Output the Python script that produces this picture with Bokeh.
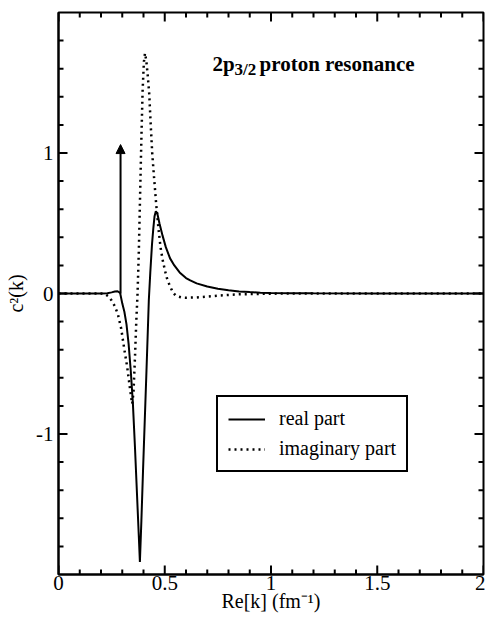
import math
from bokeh.plotting import figure
from bokeh.models import (Range1d, FixedTicker, Legend, LegendItem,
                          Label, Arrow, NormalHead)
from bokeh.embed import file_html
from bokeh.resources import INLINE

# ---- data ----
k_real = [0.0, 0.1, 0.2, 0.23, 0.25, 0.265, 0.278, 0.29, 0.30, 0.31, 0.32, 0.33,
          0.34, 0.35, 0.36, 0.37, 0.378, 0.383, 0.39, 0.398, 0.406, 0.414, 0.42,
          0.425, 0.432, 0.44, 0.446, 0.452, 0.458, 0.465, 0.475, 0.49, 0.505,
          0.525, 0.545, 0.57, 0.60, 0.62, 0.65, 0.70, 0.75, 0.80, 0.85, 0.90,
          0.95, 1.0, 1.1, 1.2, 1.5, 2.0]
c_real = [0.0, 0.0, 0.0, 0.002, 0.008, 0.014, 0.016, 0.004, -0.07, -0.13, -0.22,
          -0.36, -0.55, -0.78, -1.1, -1.45, -1.73, -1.91, -1.62, -1.25, -0.9,
          -0.55, -0.28, -0.05, 0.15, 0.35, 0.46, 0.55, 0.585, 0.57, 0.5, 0.41,
          0.33, 0.25, 0.2, 0.15, 0.11, 0.093, 0.072, 0.05, 0.034, 0.023, 0.015,
          0.01, 0.006, 0.004, 0.002, 0.001, 0.0, 0.0]

k_imag = [0.0, 0.1, 0.2, 0.22, 0.235, 0.25, 0.265, 0.28, 0.295, 0.31, 0.323,
          0.335, 0.343, 0.347, 0.353, 0.36, 0.366, 0.372, 0.378, 0.384, 0.39,
          0.396, 0.402, 0.407, 0.413, 0.42, 0.427, 0.433, 0.441, 0.45, 0.46,
          0.47, 0.48, 0.49, 0.50, 0.51, 0.52, 0.53, 0.54, 0.55, 0.56, 0.58, 0.60,
          0.65, 0.70, 0.75, 0.80, 0.85, 0.90, 1.0, 1.2, 1.5, 2.0]
c_imag = [0.0, 0.0, 0.0, -0.005, -0.02, -0.05, -0.09, -0.15, -0.25, -0.4, -0.52,
          -0.66, -0.75, -0.785, -0.7, -0.45, -0.2, 0.0, 0.3, 0.7, 1.1, 1.45, 1.65,
          1.71, 1.66, 1.55, 1.42, 1.23, 1.0, 0.82, 0.63, 0.47, 0.33, 0.24, 0.17,
          0.11, 0.07, 0.035, 0.005, -0.012, -0.02, -0.028, -0.03, -0.028, -0.022,
          -0.015, -0.01, -0.006, -0.004, -0.001, 0.0, 0.0, 0.0]

arrow_k = 0.292
arrow_top = 1.06

x_major = [0, 0.5, 1, 1.5, 2]
x_minor = [0.1, 0.2, 0.3, 0.4, 0.6, 0.7, 0.8, 0.9, 1.1, 1.2, 1.3, 1.4,
           1.6, 1.7, 1.8, 1.9]
y_major = [-1, 0, 1]
y_minor = [-1.8, -1.6, -1.4, -1.2, -0.8, -0.6, -0.4, -0.2, 0.2, 0.4, 0.6, 0.8,
           1.2, 1.4, 1.6, 1.8]

X_LO, X_HI, Y_LO, Y_HI = 0, 2, -2, 2
FONT = "Liberation Serif"

p = figure(width=485, height=623, x_range=Range1d(X_LO, X_HI),
           y_range=Range1d(Y_LO, Y_HI),
           output_backend="svg", toolbar_location=None,
           min_border_left=58, min_border_right=2, min_border_top=12,
           min_border_bottom=49)
p.xgrid.visible = False
p.ygrid.visible = False
p.outline_line_color = "black"
p.outline_line_width = 2
p.outline_line_alpha = 1
p.background_fill_color = "white"
p.border_fill_color = "white"

for ax, ticks, minor in ((p.xaxis[0], x_major, x_minor),
                         (p.yaxis[0], y_major, y_minor)):
    ax.ticker = FixedTicker(ticks=ticks, minor_ticks=minor)
    ax.axis_line_width = 2
    ax.axis_line_color = "black"
    ax.major_tick_in = 0
    ax.major_tick_out = 0
    ax.minor_tick_in = 0
    ax.minor_tick_out = 0
    ax.major_label_text_font = FONT
    ax.major_label_text_font_size = "21px"
    ax.major_label_text_color = "black"
    ax.axis_label_text_font = FONT
    ax.axis_label_text_font_size = "20px"
    ax.axis_label_text_font_style = "normal"
    ax.axis_label_text_color = "black"

p.xaxis[0].axis_label = "Re[k] (fm\u207b\u00b9)"
p.xaxis[0].major_label_standoff = 1
p.xaxis[0].axis_label_standoff = -3
p.yaxis[0].axis_label = "c\u00b2(k)"
p.yaxis[0].major_label_standoff = 5
p.yaxis[0].axis_label_standoff = 6
p.yaxis[0].major_label_overrides = {-1: "-1", 0: "0", 1: "1"}

# inward tick marks on all four sides (screen-length rays at the tick positions)
MAJ, MIN = 9, 5
tick_kw = dict(line_color="black", line_width=2, length_units="screen")
p.ray(x=x_major, y=[Y_LO] * len(x_major), length=MAJ, angle=math.pi / 2, **tick_kw)
p.ray(x=x_minor, y=[Y_LO] * len(x_minor), length=MIN, angle=math.pi / 2, **tick_kw)
p.ray(x=x_major, y=[Y_HI] * len(x_major), length=MAJ, angle=-math.pi / 2, **tick_kw)
p.ray(x=x_minor, y=[Y_HI] * len(x_minor), length=MIN, angle=-math.pi / 2, **tick_kw)
p.ray(x=[X_LO] * len(y_major), y=y_major, length=MAJ, angle=0, **tick_kw)
p.ray(x=[X_LO] * len(y_minor), y=y_minor, length=MIN, angle=0, **tick_kw)
p.ray(x=[X_HI] * len(y_major), y=y_major, length=MAJ, angle=math.pi, **tick_kw)
p.ray(x=[X_HI] * len(y_minor), y=y_minor, length=MIN, angle=math.pi, **tick_kw)

r_real = p.line(k_real, c_real, line_color="black", line_width=2)
r_imag = p.line(k_imag, c_imag, line_color="black", line_width=2.5,
                line_dash="2 4")

p.add_layout(Arrow(end=NormalHead(size=9, fill_color="black", line_color="black",
                                  line_width=1),
                   x_start=arrow_k, y_start=0, x_end=arrow_k, y_end=arrow_top,
                   line_color="black", line_width=2))

legend = Legend(items=[LegendItem(label="real part", renderers=[r_real]),
                       LegendItem(label="imaginary part", renderers=[r_imag])],
                location=(158, 102))
legend.label_text_font = FONT
legend.label_text_font_size = "20px"
legend.label_text_color = "black"
legend.border_line_color = "black"
legend.border_line_alpha = 1
legend.border_line_width = 2
legend.background_fill_alpha = 1
legend.glyph_width = 37
legend.glyph_height = 20
legend.label_height = 20
legend.label_standoff = 14
legend.spacing = 7
legend.padding = 10
legend.margin = 0
p.add_layout(legend, "center")

# title text inside the plot
tx, ty = 0.725, 1.635
p.add_layout(Label(x=tx, y=ty, text="2p", text_font=FONT, text_font_size="21px",
                   text_font_style="bold", text_color="black",
                   text_baseline="alphabetic"))
p.add_layout(Label(x=tx, y=ty, x_offset=22, y_offset=-6, text="3/2",
                   text_font=FONT, text_font_size="17px", text_font_style="bold",
                   text_color="black", text_baseline="alphabetic"))
p.add_layout(Label(x=tx, y=ty, x_offset=47, text="proton resonance",
                   text_font=FONT, text_font_size="21px", text_font_style="bold",
                   text_color="black", text_baseline="alphabetic"))

open("out.html", "w").write(file_html(p, INLINE))
